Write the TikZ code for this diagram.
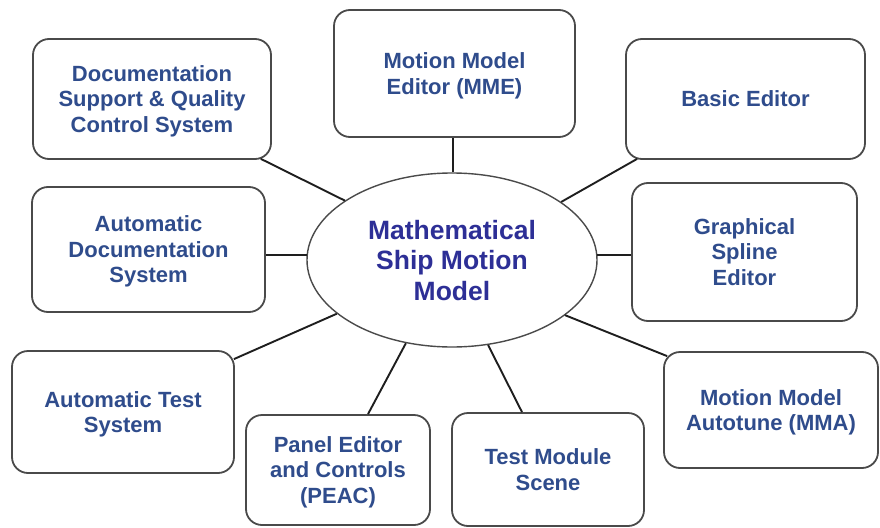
\documentclass[tikz,border=0pt]{standalone}
\usepackage{fontspec}
\setmainfont{Liberation Sans}
\usetikzlibrary{calc,shapes.geometric}
\definecolor{boxtext}{HTML}{2F4C8C}
\definecolor{hubtext}{HTML}{2D2F96}
\definecolor{boxline}{HTML}{4A4A4A}
\definecolor{linkline}{HTML}{1E1E1E}
\begin{document}
\begin{tikzpicture}[x=1pt,y=-1pt,
  module/.style={draw=boxline,line width=1.8pt,fill=white,rounded corners=16pt,
    align=center,text=boxtext,inner sep=0pt,text depth=0pt,
    font=\fontsize{22}{25.5}\selectfont\bfseries},
  hub/.style={ellipse,draw=boxline,line width=1.4pt,fill=white,inner sep=0pt,
    minimum width=290pt,minimum height=174pt,align=center,text=hubtext,
    text depth=0pt,font=\fontsize{26.5}{30.5}\selectfont\bfseries},
  link/.style={draw=linkline,line width=1.9pt}]
\path[fill=white] (0,0) rectangle (880,527);
\useasboundingbox (0,0) rectangle (880,527);

% central model
\node[hub] (ell) at (452,260) {Mathematical\\Ship Motion\\Model};

% surrounding modules
\node[module,minimum width=238pt,minimum height=120pt] (ds) at (152,99)
  {Documentation\\Support \& Quality\\Control System};
\node[module,minimum width=241pt,minimum height=127pt] (mme) at (454.5,73.5)
  {Motion Model\\Editor (MME)};
\node[module,minimum width=239pt,minimum height=120pt] (be) at (745.5,99)
  {Basic Editor};
\node[module,minimum width=233pt,minimum height=125pt] (ad) at (148.5,249.5)
  {Automatic\\Documentation\\System};
\node[module,minimum width=225pt,minimum height=138pt] (gs) at (744.5,252)
  {Graphical\\Spline\\Editor};
\node[module,minimum width=222pt,minimum height=122pt] (at) at (123,412)
  {Automatic Test\\System};
\node[module,minimum width=184pt,minimum height=110pt] (pe) at (338,470)
  {Panel Editor\\and Controls\\(PEAC)};
\node[module,minimum width=192pt,minimum height=113pt] (tm) at (548,469.5)
  {Test Module\\Scene};
\node[module,minimum width=214pt,minimum height=116pt] (mma) at (771,410)
  {Motion Model\\Autotune (MMA)};

% connectors
\draw[link] ($(ds.south east)+(-11,-1)$) -- (ell.151.5);
\draw[link] ($(ell.north)+(1,0)$) -- ($(ell.north |- mme.south)+(1,0)$);
\draw[link] ($(be.south west)+(12,-1)$) -- (ell.28.3);
\draw[link] (ell.178) -- (ell.178 -| ad.east);
\draw[link] (ell.2) -- (ell.2 -| gs.west);
\draw[link] ($(at.north east)+(-1,9)$) -- (ell.205.6);
\draw[link] ($(pe.north)+(30,0)$) -- (ell.241.5);
\draw[link] ($(tm.north)+(-26,0)$) -- (ell.293.8);
\draw[link] ($(mma.north west)+(4,5)$) -- (ell.334.4);
\end{tikzpicture}
\end{document}
